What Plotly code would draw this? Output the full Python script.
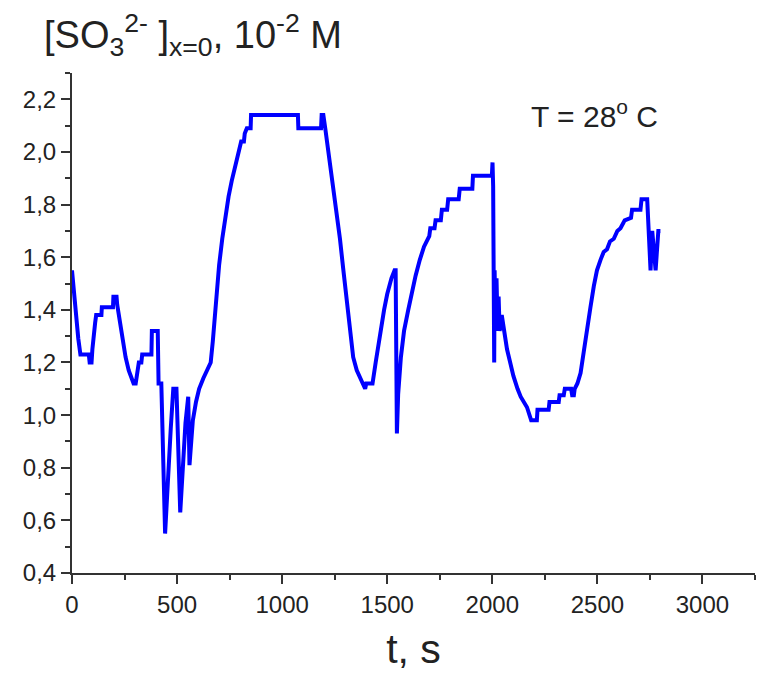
import plotly.graph_objects as go

# Sulfite concentration at the electrode surface vs. time
t_s = [0, 8, 18, 30, 40, 80, 84, 93, 97, 103, 110, 115, 140, 142, 195, 197, 212, 215,
       225, 240, 255, 270, 285, 293, 303, 310, 318, 330, 334, 378, 380, 408, 412, 425,
       443, 470, 482, 497, 515, 540, 553, 559, 565, 575, 590, 605, 625, 645, 660, 670,
       685, 700, 715, 730, 745, 760, 775, 790, 800, 805, 818, 822, 832, 850, 852, 1075,
       1077, 1185, 1188, 1196, 1205, 1220, 1240, 1258, 1275, 1290, 1306, 1322, 1338,
       1355, 1372, 1388, 1395, 1400, 1430, 1445, 1465, 1485, 1500, 1520, 1535, 1540,
       1546, 1552, 1565, 1580, 1600, 1620, 1635, 1655, 1675, 1700, 1705, 1725, 1730,
       1755, 1760, 1785, 1790, 1840, 1845, 1905, 1908, 1998, 2001, 2004, 2009, 2011,
       2016, 2020, 2025, 2030, 2035, 2045, 2070, 2100, 2120, 2135, 2165, 2185, 2212,
       2215, 2268, 2272, 2316, 2320, 2340, 2345, 2375, 2380, 2388, 2392, 2405, 2420,
       2435, 2450, 2467, 2483, 2498, 2515, 2530, 2546, 2560, 2578, 2595, 2610, 2630,
       2660, 2665, 2705, 2710, 2737, 2753, 2761, 2777, 2790, 2800]
conc = [1.55, 1.47, 1.38, 1.29, 1.23, 1.23, 1.20, 1.20, 1.25, 1.32, 1.35, 1.38, 1.38, 1.41,
        1.41, 1.45, 1.45, 1.42, 1.37, 1.28, 1.22, 1.17, 1.13, 1.12, 1.12, 1.16, 1.20, 1.20,
        1.23, 1.23, 1.32, 1.32, 1.12, 1.12, 0.55, 0.95, 1.10, 1.10, 0.63, 0.97, 1.07, 0.81,
        0.90, 0.98, 1.05, 1.10, 1.14, 1.17, 1.20, 1.28, 1.45, 1.57, 1.67, 1.76, 1.83, 1.89,
        1.94, 1.98, 2.01, 2.04, 2.04, 2.07, 2.09, 2.09, 2.14, 2.14, 2.09, 2.09, 2.14, 2.14,
        2.09, 2.00, 1.89, 1.78, 1.67, 1.56, 1.44, 1.33, 1.22, 1.17, 1.14, 1.12, 1.10, 1.12,
        1.12, 1.20, 1.31, 1.40, 1.46, 1.52, 1.55, 1.55, 0.93, 1.08, 1.22, 1.32, 1.40, 1.48,
        1.53, 1.59, 1.64, 1.68, 1.71, 1.71, 1.74, 1.74, 1.78, 1.78, 1.82, 1.82, 1.86, 1.86,
        1.91, 1.91, 1.96, 1.87, 1.20, 1.55, 1.32, 1.52, 1.34, 1.45, 1.32, 1.38, 1.25, 1.15,
        1.10, 1.07, 1.03, 0.98, 0.98, 1.02, 1.02, 1.05, 1.05, 1.075, 1.075, 1.10, 1.10,
        1.075, 1.075, 1.10, 1.12, 1.16, 1.24, 1.31, 1.41, 1.49, 1.55, 1.59, 1.62, 1.63,
        1.66, 1.67, 1.70, 1.71, 1.74, 1.75, 1.78, 1.78, 1.82, 1.82, 1.55, 1.70, 1.55, 1.70,
        1.70]

x_range = [0, 3250]
y_range = [0.4, 2.3]

W, H = 760, 676
M_L, M_R, M_T, M_B = 72, 5, 73, 103
PW, PH = W - M_L - M_R, H - M_T - M_B


def paper_x(px):
    return (px - M_L) / PW


def paper_y(py):
    return (H - M_B - py) / PH


FONT = "Liberation Sans, Arial, sans-serif"
AX_COLOR = "#333333"

fig = go.Figure(
    go.Scatter(x=t_s, y=conc, mode="lines",
               line=dict(color="#0000ff", width=4), hoverinfo="skip")
)

axis_common = dict(
    showgrid=False, zeroline=False, showline=True, linecolor=AX_COLOR, linewidth=2,
    ticks="outside", ticklen=9, tickwidth=2, tickcolor=AX_COLOR,
    tickfont=dict(family=FONT, size=24, color="#222222"),
    mirror=False,
)

fig.update_xaxes(
    range=x_range, tick0=0, dtick=500, tickformat="d",
    minor=dict(ticks="outside", ticklen=5, tickwidth=2, tickcolor=AX_COLOR, dtick=250),
    title=dict(text="t, s", font=dict(family=FONT, size=41, color="#222222"), standoff=18),
    **axis_common,
)
fig.update_yaxes(
    range=y_range, tick0=0.4, dtick=0.2, tickformat=".1f",
    minor=dict(ticks="outside", ticklen=5, tickwidth=2, tickcolor=AX_COLOR, dtick=0.1),
    **axis_common,
)

fig.add_annotation(
    xref="paper", yref="paper", x=paper_x(42), y=paper_y(35),
    xanchor="left", yanchor="middle", showarrow=False,
    text="[SO<sub>3</sub><sup>2-</sup> ]<sub>x=0</sub>, 10<sup>-2</sup> M",
    font=dict(family=FONT, size=38, color="#222222"),
)
fig.add_annotation(
    xref="paper", yref="paper", x=paper_x(594), y=paper_y(114),
    xanchor="center", yanchor="middle", showarrow=False,
    text="T = 28<sup>o</sup> C",
    font=dict(family=FONT, size=30, color="#222222"),
)

fig.update_layout(
    width=W, height=H, autosize=False,
    margin=dict(l=M_L, r=M_R, t=M_T, b=M_B, pad=0),
    paper_bgcolor="white", plot_bgcolor="white",
    separators=",.", showlegend=False,
)

fig.write_html("out.html")
